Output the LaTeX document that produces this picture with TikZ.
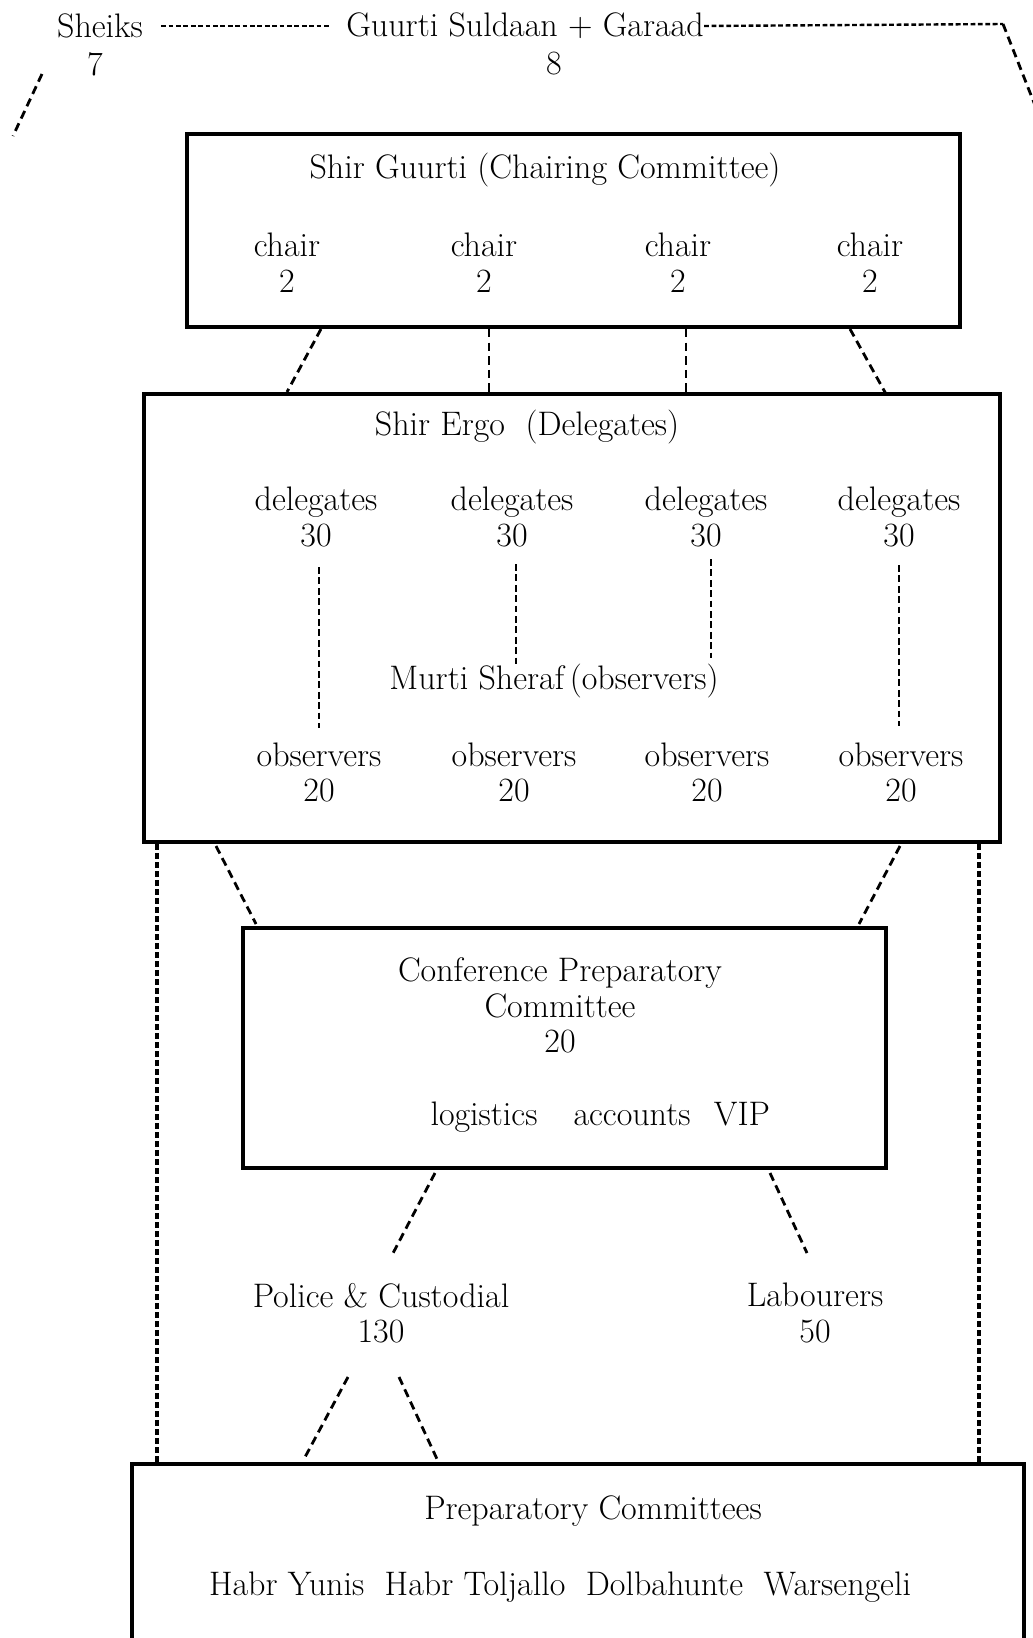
\documentclass[tikz,border=0pt]{standalone}
\usepackage{tikz}
\tikzset{
	box/.style={draw,line width=1.6pt,inner sep=0pt},
	txt/.style={inner sep=0pt,align=center,font=\fontsize{17}{17.75}\selectfont},
	dline/.style={line width=1.4pt,dash pattern=on 4.2pt off 2.6pt},
	sline/.style={line width=1.7pt,dash pattern=on 3pt off 1.5pt},
	tline/.style={line width=1.2pt,dash pattern=on 2.4pt off 1.3pt}
}
\begin{document}
\begin{tikzpicture}[x=0.5pt,y=-0.5pt]
	\useasboundingbox (0,0) rectangle (1033,1638);
	\clip (0,0) rectangle (1033,1638);
	% top line
	\node [txt] (sheiks) at (100,26) {Sheiks};
	\node [txt] (seven) at (95,64) {7};
	\node [txt] (suldaan) at (525,26) {Guurti Suldaan + Garaad};
	\node [txt] (eight) at (554,64) {8};
	\coordinate (sl1) at (42,74);
	\coordinate (sl2) at (13,136);
	\coordinate (cr1) at (1003,24);
	\coordinate (cr2) at (1040,118);
	\draw[tline] ([xshift=9pt]sheiks.east) -- ([xshift=-8pt]suldaan.west);
	\draw[tline] (suldaan.east) -- (cr1);
	\draw[dline] (cr1) -- (cr2);
	\draw[dline] (sl1) -- (sl2);

	% Shir Guurti
	\node [box,minimum width=386.5pt,minimum height=96.5pt] (guurti) at (573.5,230.5) {};
	\node [txt] (guurtit) at (545,170) {Shir Guurti (Chairing Committee)};
	\node [txt] (ch1) at (287,262.5) {chair\\2};
	\node [txt] (ch2) at (484,262.5) {chair\\2};
	\node [txt] (ch3) at (678,262.5) {chair\\2};
	\node [txt] (ch4) at (870,262.5) {chair\\2};

	% Shir Ergo
	\node [box,minimum width=428pt,minimum height=224pt] (ergo) at (572,618) {};
	\node [txt] (ergot) at (527,427) {Shir Ergo~~(Delegates)};
	\node [txt] (de1) at (316,517) {delegates\\30};
	\node [txt] (de2) at (512,517) {delegates\\30};
	\node [txt] (de3) at (706,517) {delegates\\30};
	\node [txt] (de4) at (899,517) {delegates\\30};
	\node [txt] (murti) at (554,681) {Murti Sheraf\,(observers)};
	\node [txt] (ob1) at (319,772.5) {observers\\20};
	\node [txt] (ob2) at (514,772.5) {observers\\20};
	\node [txt] (ob3) at (707,772.5) {observers\\20};
	\node [txt] (ob4) at (901,772.5) {observers\\20};

	\coordinate (ga) at (321,329); \coordinate (ea) at (287,392);
	\coordinate (gb) at (489,329); \coordinate (eb) at (489,393);
	\coordinate (gc) at (686,329); \coordinate (ec) at (686,393);
	\coordinate (gd) at (850,329); \coordinate (ed) at (886,394);
	\draw[dline] (ga) -- (ea);
	\draw[dline] (gb) -- (eb);
	\draw[dline] (gc) -- (ec);
	\draw[dline] (gd) -- (ed);

	\coordinate (va1) at (319,567); \coordinate (vb1) at (319,728);
	\coordinate (va2) at (516,564); \coordinate (vb2) at (516,665);
	\coordinate (va3) at (711,559); \coordinate (vb3) at (711,658);
	\coordinate (va4) at (899,565); \coordinate (vb4) at (899,726);
	\foreach \i in {1,...,4}
		\draw[dline,line width=1.2pt,dash pattern=on 3.4pt off 1.8pt] (va\i) -- (vb\i);

	% Conference Preparatory Committee
	\node [box,minimum width=321.5pt,minimum height=120pt] (conf) at (564.5,1048) {};
	\node [txt] (conft) at (560,1005.5) {Conference Preparatory\\Committee\\20};
	\node [txt,anchor=base] (logi) at (484,1125) {logistics};
	\node [txt,anchor=base] (acco) at (632,1125) {accounts};
	\node [txt,anchor=base] (vip) at (742,1125) {VIP};

	\coordinate (ef) at (216,846); \coordinate (ca) at (256,924);
	\coordinate (eg) at (900,846); \coordinate (cb) at (859,924);
	\draw[dline] (ef) -- (ca);
	\draw[dline] (eg) -- (cb);

	\node [txt] (police) at (381,1313) {Police \& Custodial\\130};
	\node [txt] (labour) at (815,1313) {Labourers\\50};
	\coordinate (cc) at (435,1173); \coordinate (pa) at (391,1257);
	\coordinate (cd) at (770,1173); \coordinate (la) at (807,1253);
	\draw[dline] (cc) -- (pa);
	\draw[dline] (cd) -- (la);

	% Preparatory Committees
	\node [box,minimum width=446pt,minimum height=98pt] (prep) at (578,1562) {};
	\node [txt] (prept) at (593,1511) {Preparatory Committees};
	\node [txt,anchor=base] (clans) at (560,1595) {Habr Yunis~~Habr Toljallo~~Dolbahunte~~Warsengeli};

	\coordinate (pb) at (348,1377); \coordinate (pc) at (304,1459);
	\coordinate (pd) at (399,1377); \coordinate (pe) at (437,1459);
	\draw[dline] (pb) -- (pc);
	\draw[dline] (pd) -- (pe);

	% side lines
	\coordinate (sa) at (157,844); \coordinate (sb) at (157,1464);
	\coordinate (sc) at (979,844); \coordinate (sd) at (979,1464);
	\draw[sline] (sa) -- (sb);
	\draw[sline] (sc) -- (sd);
\end{tikzpicture}
\end{document}
